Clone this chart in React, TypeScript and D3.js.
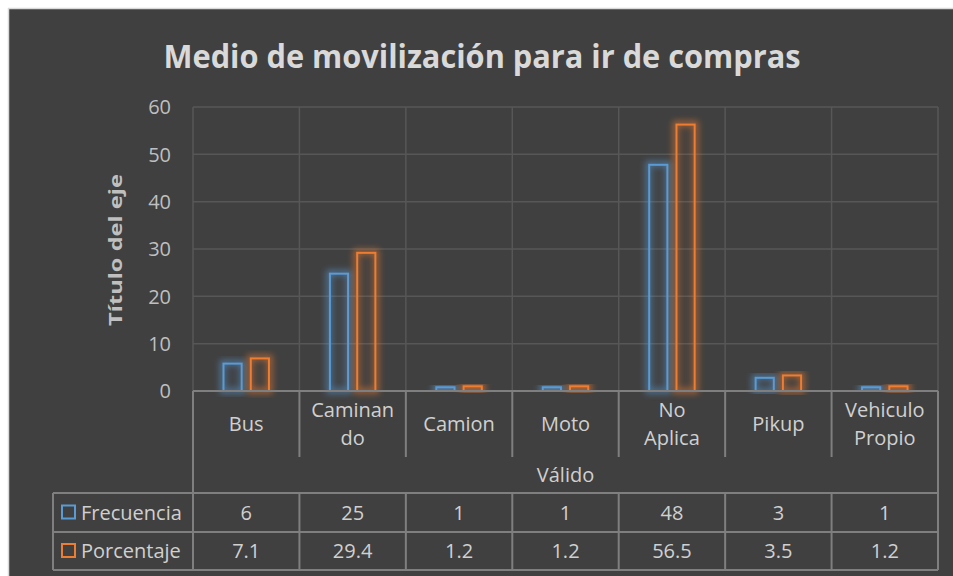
import React from "react";
import * as d3 from "d3";

const categories = ["Bus", "Caminando", "Camion", "Moto", "No Aplica", "Pikup", "Vehiculo Propio"];
const categoryLines = [["Bus"], ["Caminan", "do"], ["Camion"], ["Moto"], ["No", "Aplica"], ["Pikup"], ["Vehiculo", "Propio"]];
const seriesNames = ["Frecuencia", "Porcentaje"];
const frecuencia = [6, 25, 1, 1, 48, 3, 1];
const porcentaje = [7.1, 29.4, 1.2, 1.2, 56.5, 3.5, 1.2];
const frecuenciaLabels = ["6", "25", "1", "1", "48", "3", "1"];
const porcentajeLabels = ["7.1", "29.4", "1.2", "1.2", "56.5", "3.5", "1.2"];
const yTicks = [0, 10, 20, 30, 40, 50, 60];
const groupLabel = "Válido";
const title = "Medio de movilización para ir de compras";
const yTitle = "Título del eje";

const colors = ["#5b9bd5", "#ed7d31"];
const FONT = "'Open Sans', 'Noto Sans', sans-serif";

export default function App() {
  const W = 953, H = 576;
  const plotLeft = 193, plotRight = 938, plotTop = 107, plotBottom = 391;
  const headerBottom = 457, groupBottom = 493, row1Bottom = 532, row2Bottom = 570;
  const tableLeft = 53;

  const y = d3.scaleLinear().domain([0, 60]).range([plotBottom, plotTop]);
  const x = d3.scaleBand<string>().domain(categories).range([plotLeft, plotRight]).padding(0);
  const bw = x.bandwidth();
  const xi = d3.scaleBand<string>().domain(seriesNames).range([bw * 0.277, bw * 0.723]).paddingInner(0.26);

  const series = [frecuencia, porcentaje];
  const rowLabels = [frecuenciaLabels, porcentajeLabels];
  const boundaries = categories.map((c) => x(c) as number).concat([plotRight]);

  const gridColor = "#575757";
  const lineColor = "#7f7f7f";
  const textColor = "#d0d0d0";
  const fs = 20;

  return (
    <svg width={W} height={H} style={{ position: "absolute", left: 0, top: 0, background: "#ffffff" }}>
      <defs>
        <filter id="glow" x="-50%" y="-20%" width="200%" height="140%">
          <feGaussianBlur stdDeviation="3" />
        </filter>
      </defs>
      <rect x={8.5} y={8.5} width={W} height={H} fill="#404040" stroke="#d9d9d9" strokeWidth={1.5} />

      <text x={482} y={68} textAnchor="middle" fontFamily={FONT} fontWeight={700} fontSize={33}
        fill="#d9d9d9" textLength={637} lengthAdjust="spacingAndGlyphs">{title}</text>

      {/* horizontal gridlines */}
      {yTicks.filter((t) => t > 0).map((t) => (
        <line key={"g" + t} x1={plotLeft} x2={plotRight} y1={y(t)} y2={y(t)} stroke={gridColor} strokeWidth={1.5} />
      ))}
      {/* vertical gridlines */}
      {boundaries.map((b, i) => (
        <line key={"v" + i} x1={b} x2={b} y1={plotTop} y2={plotBottom} stroke={gridColor} strokeWidth={1.5} />
      ))}

      {/* tick labels */}
      {yTicks.map((t) => (
        <text key={"t" + t} x={171} y={y(t)} dy="0.36em" textAnchor="end" fontFamily={FONT} fontSize={fs} fill="#bfbfbf">{t}</text>
      ))}

      <text transform={`translate(122,250) rotate(-90)`} textAnchor="middle" fontFamily={FONT} fontWeight={700}
        fontSize={18} fill="#bfbfbf" textLength={152} lengthAdjust="spacingAndGlyphs">{yTitle}</text>

      {/* bars */}
      {categories.map((c, ci) =>
        seriesNames.map((s, si) => {
          const v = series[si][ci];
          const bx = (x(c) as number) + (xi(s) as number);
          const w = xi.bandwidth();
          const top = y(v);
          const h = plotBottom - top;
          return (
            <g key={c + s}>
              <rect x={bx} y={top} width={w} height={h} fill="none" stroke={colors[si]} strokeWidth={5}
                strokeOpacity={0.6} filter="url(#glow)" />
              <rect x={bx + 1} y={top + 1} width={w - 2} height={h - 1} fill={colors[si]} fillOpacity={0.06}
                stroke={colors[si]} strokeWidth={2} />
            </g>
          );
        })
      )}

      {/* table lines */}
      <line x1={plotLeft} x2={plotRight} y1={plotBottom} y2={plotBottom} stroke={lineColor} strokeWidth={2} />
      {boundaries.map((b, i) => (
        <line key={"hs" + i} x1={b} x2={b} y1={plotBottom} y2={i === 0 || i === boundaries.length - 1 ? row2Bottom : headerBottom}
          stroke={lineColor} strokeWidth={2} />
      ))}
      {boundaries.map((b, i) => (
        <line key={"ds" + i} x1={b} x2={b} y1={groupBottom} y2={row2Bottom} stroke={lineColor} strokeWidth={2} />
      ))}
      <line x1={tableLeft} x2={tableLeft} y1={groupBottom} y2={row2Bottom} stroke={lineColor} strokeWidth={2} />
      {[groupBottom, row1Bottom, row2Bottom].map((yy, i) => (
        <line key={"hr" + i} x1={tableLeft} x2={plotRight} y1={yy} y2={yy} stroke={lineColor} strokeWidth={2} />
      ))}

      {/* category labels */}
      {categories.map((c, ci) => {
        const cx = (x(c) as number) + bw / 2;
        const lines = categoryLines[ci];
        const mid = (plotBottom + headerBottom) / 2;
        return lines.map((ln, li) => (
          <text key={c + li} x={cx} y={mid + (li - (lines.length - 1) / 2) * 28} dy="0.36em" textAnchor="middle"
            fontFamily={FONT} fontSize={fs} fill={textColor}>{ln}</text>
        ));
      })}
      <text x={(plotLeft + plotRight) / 2} y={(headerBottom + groupBottom) / 2} dy="0.36em" textAnchor="middle"
        fontFamily={FONT} fontSize={fs} fill={textColor}>{groupLabel}</text>

      {/* data rows */}
      {rowLabels.map((row, ri) => {
        const cy = ri === 0 ? (groupBottom + row1Bottom) / 2 : (row1Bottom + row2Bottom) / 2;
        return (
          <g key={"row" + ri}>
            <rect x={62} y={cy - 7} width={13} height={13} fill="none" stroke={colors[ri]} strokeWidth={2} />
            <text x={81} y={cy} dy="0.36em" fontFamily={FONT} fontSize={fs} fill={textColor}>{seriesNames[ri]}</text>
            {row.map((lab, ci) => (
              <text key={ci} x={(x(categories[ci]) as number) + bw / 2} y={cy} dy="0.36em" textAnchor="middle"
                fontFamily={FONT} fontSize={fs} fill={textColor}>{lab}</text>
            ))}
          </g>
        );
      })}
    </svg>
  );
}
